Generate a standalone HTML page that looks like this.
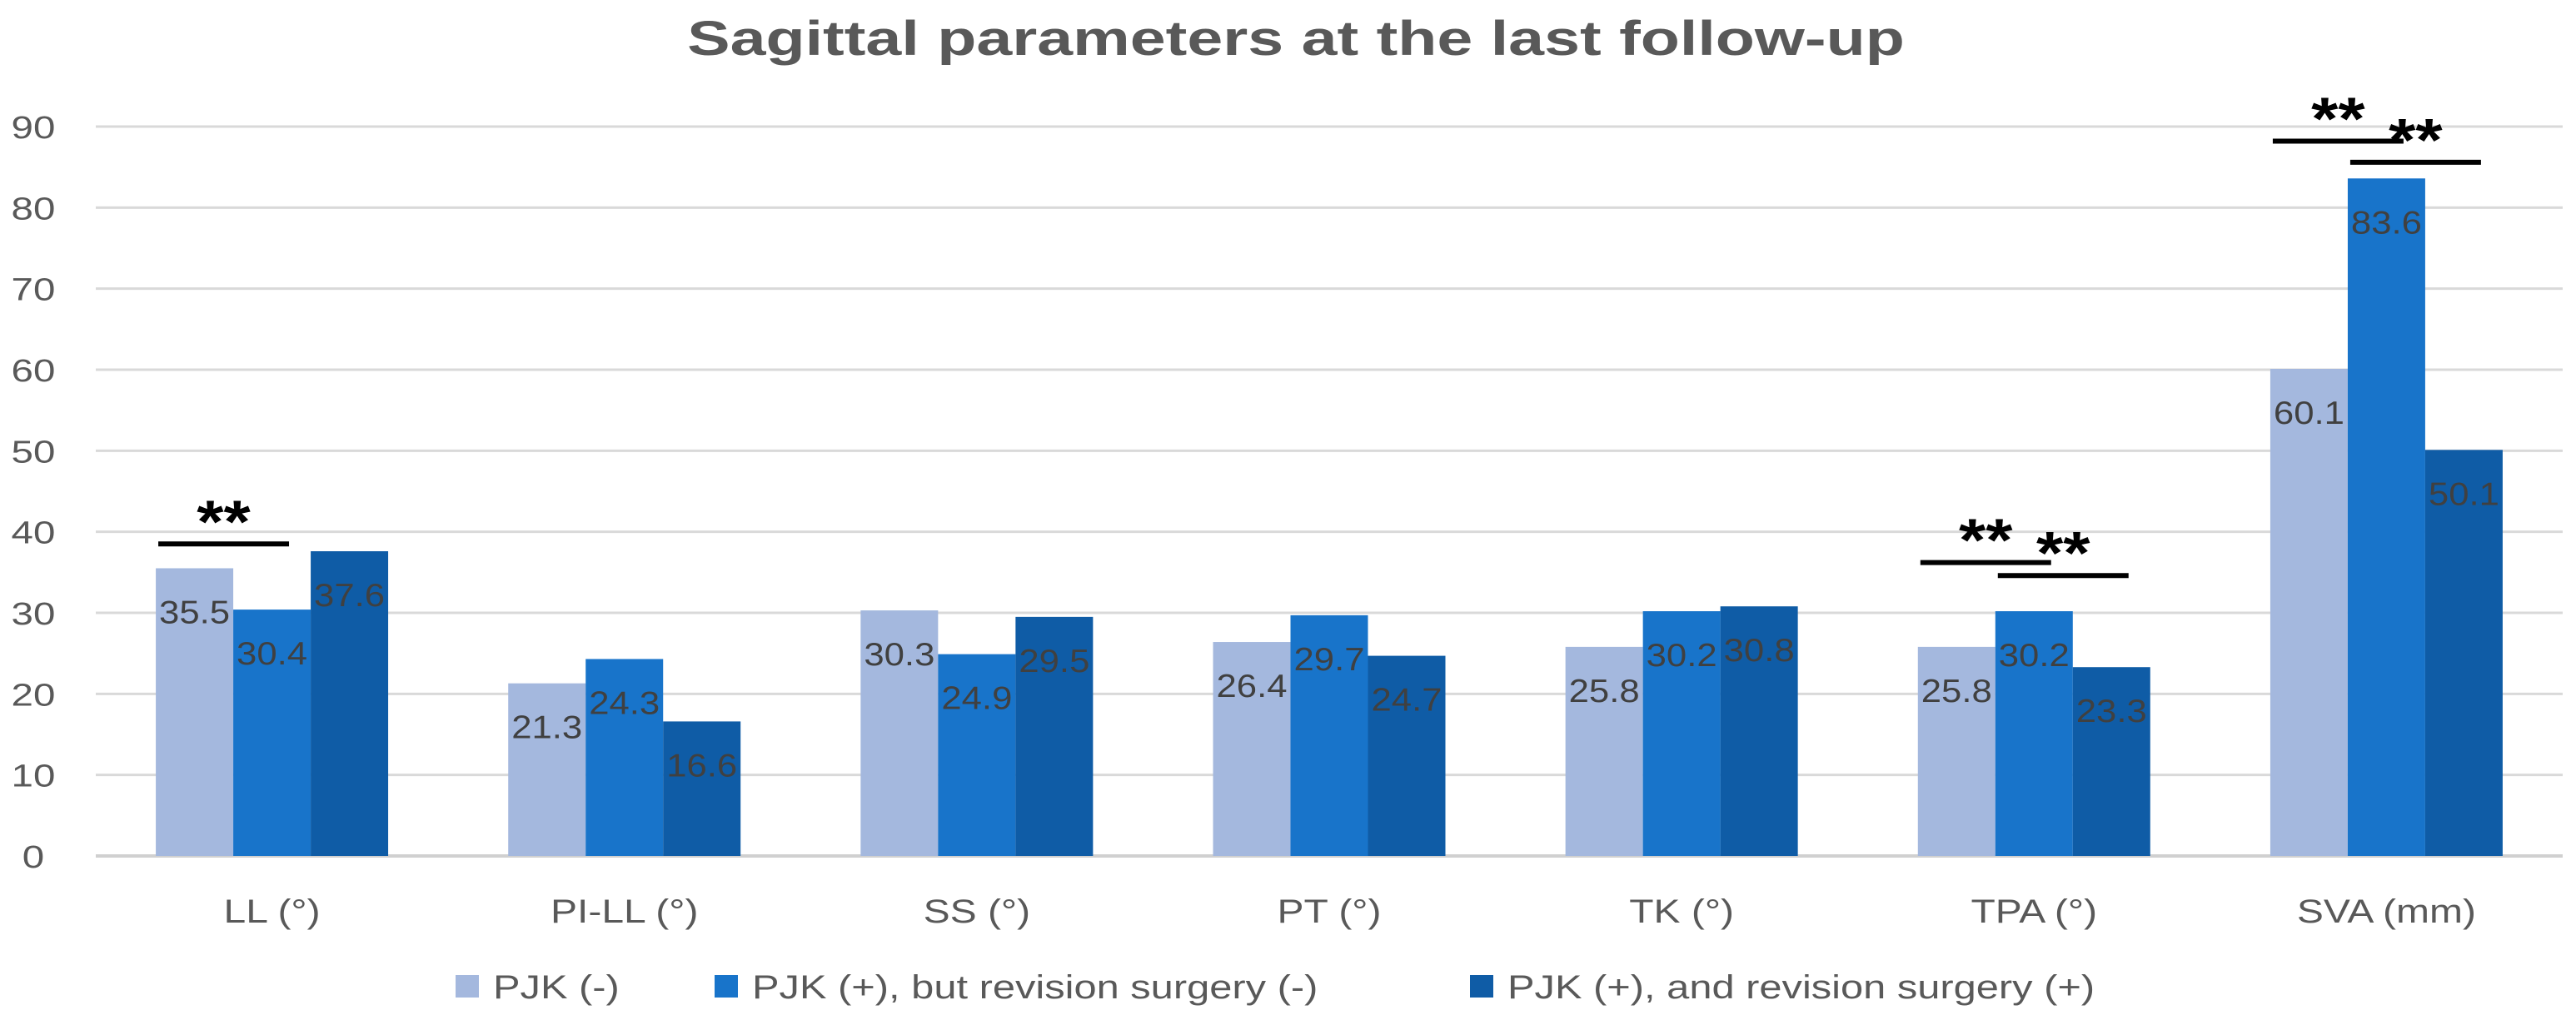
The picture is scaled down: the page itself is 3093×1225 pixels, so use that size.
<!DOCTYPE html>
<html><head><meta charset="utf-8"><style>
html,body{margin:0;padding:0;background:#fff;}
svg{display:block;font-family:"Liberation Sans",sans-serif;}
</style></head><body>
<svg id="chart" width="3093" height="1225" viewBox="0 0 3093 1225" xmlns="http://www.w3.org/2000/svg">
<text id="title" x="1556" y="66" text-anchor="middle" font-size="58" font-weight="bold" fill="#595959">Sagittal parameters at the last follow-up</text>
<g id="grid"></g>
<g id="bars"></g>
<g id="labels"></g>
<g id="sig"></g>
<g id="legend"></g>
</svg>
<script>
const categories = ["LL (°)","PI-LL (°)","SS (°)","PT (°)","TK (°)","TPA (°)","SVA (mm)"];
const seriesNames = ["PJK (-)","PJK (+), but revision surgery (-)","PJK (+), and revision surgery (+)"];
const pjkNeg = [35.5,21.3,30.3,26.4,25.8,25.8,60.1];
const pjkNoRev = [30.4,24.3,24.9,29.7,30.2,30.2,83.6];
const pjkRev = [37.6,16.6,29.5,24.7,30.8,23.3,50.1];
const yTicks = [0,10,20,30,40,50,60,70,80,90];
// significance: [category index, from series, to series, height value]
const sigBrackets = [[0,0,1,38.5],[5,0,1,36.2],[5,1,2,34.6],[6,0,1,88.2],[6,1,2,85.6]];

const NS="http://www.w3.org/2000/svg";
const colors=["#A4B8DE","#1874CA","#0F5CA6"];
const series=[pjkNeg,pjkNoRev,pjkRev];
const plotL=115, plotR=3077, base=1028, top90=152;
const y=v=>base-(v/90)*(base-top90);
const band=(plotR-plotL)/categories.length;
const bw=93;
const xBar=(c,s)=>plotL+band*c+band/2-1.5*bw+s*bw;
function mk(tag,attrs,parent,text){const e=document.createElementNS(NS,tag);for(const k in attrs)e.setAttribute(k,attrs[k]);if(text!==undefined)e.textContent=text;parent.appendChild(e);return e;}
function widen(el,f){const w=el.getComputedTextLength();el.setAttribute('textLength',w*f);el.setAttribute('lengthAdjust','spacingAndGlyphs');}
widen(document.getElementById('title'),1.33);
const grid=document.getElementById('grid');
yTicks.forEach(t=>{
  const l=mk('line',{x1:plotL,x2:plotR,y1:y(t),y2:y(t),stroke:t===0?'#d0d0d0':'#d9d9d9','stroke-width':t===0?4:3},grid);
  
  
  const tx=mk('text',{x:40,y:y(t)+14,'text-anchor':'middle','font-size':38,fill:'#595959'},grid,String(t));
  
  
  widen(tx,1.25);
});
categories.forEach((c,i)=>{
  const tx=mk('text',{x:plotL+band*i+band/2,y:1108,'text-anchor':'middle','font-size':40,fill:'#595959'},grid,c);
  
  
  widen(tx,1.2);
});
const bars=document.getElementById('bars'), labels=document.getElementById('labels');
series.forEach((vals,s)=>{
  vals.forEach((v,c)=>{
    const r=mk('rect',{x:xBar(c,s),y:y(v),width:bw,height:base-y(v),fill:colors[s]},bars);
    
    
    const t=mk('text',{x:xBar(c,s)+bw/2,y:y(v)+66,'text-anchor':'middle','font-size':39,fill:'#404040'},labels,v.toFixed(1));
    
    
    widen(t,1.12);
  });
});
const sig=document.getElementById('sig');
sigBrackets.forEach(b=>{
  const x1=xBar(b[0],b[1])+3, x2=xBar(b[0],b[2])+bw*0.72;
  const ly=y(b[3]);
  const l=mk('line',{x1:x1,x2:x2,y1:ly,y2:ly,stroke:'#000','stroke-width':6},sig);
  
  
  const t=mk('text',{x:(x1+x2)/2,y:ly-2,'text-anchor':'middle','font-size':72,'font-weight':'bold',fill:'#000'},sig,'**');
  
  
  widen(t,1.15);
});
const legend=document.getElementById('legend');
const lx=[547,858,1765];
seriesNames.forEach((n,i)=>{
  const r=mk('rect',{x:lx[i],y:1171,width:28,height:27,fill:colors[i]},legend);
  
  
  const t=mk('text',{x:lx[i]+45,y:1199,'font-size':40,fill:'#595959'},legend,n);
  
  
  widen(t,1.22);
});
</script>
</body></html>
